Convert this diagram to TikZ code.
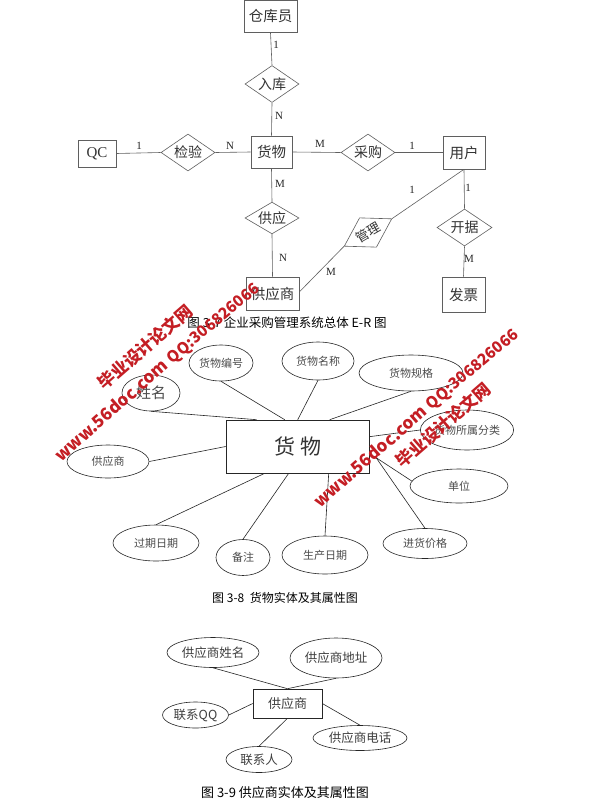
\documentclass[tikz,border=0pt]{standalone}
\usepackage{fontspec}
\setmainfont{Liberation Serif}
\newfontfamily\cjk{Noto Sans CJK SC}
\usetikzlibrary{shapes.geometric}
\definecolor{wm}{RGB}{196,30,36}
\definecolor{ln}{RGB}{95,95,95}
\begin{document}
\begin{tikzpicture}[x=1pt,y=-1pt,
  ent/.style={draw=ln,line width=0.6pt,rectangle,inner sep=0pt,font=\cjk\fontsize{14.5}{14.5}\selectfont,text=black!80},
  rel/.style={draw=ln,line width=0.6pt,diamond,aspect=1.5,inner sep=0pt,font=\cjk\fontsize{14}{14}\selectfont,text=black!80},
  card/.style={font=\fontsize{11}{11}\selectfont,inner sep=0pt,text=black!85},
  conn/.style={draw=ln,line width=0.6pt},
  aconn/.style={draw=black!85,line width=0.6pt},
  attr/.style={draw=black!85,line width=0.6pt,ellipse,inner sep=0pt,font=\cjk\fontsize{11}{11}\selectfont,text=black!70},
  attrb/.style={draw=black!85,line width=0.6pt,ellipse,inner sep=0pt,font=\cjk\fontsize{12.5}{12.5}\selectfont,text=black!75},
  captext/.style={font=\cjk\fontsize{12.5}{12.5}\selectfont,inner sep=0pt},
  wmtext/.style={text=wm,font=\cjk\bfseries\fontsize{17}{17}\selectfont,rotate=41,inner sep=0pt},
  wmqq/.style={text=wm,font=\cjk\bfseries\fontsize{15.5}{15.5}\selectfont,rotate=40,inner sep=0pt}
]
\useasboundingbox (0,0) rectangle (595,801);
\fill[white] (0,0) rectangle (595,801);

% ---------- Figure 3-7 : overall E-R ----------
\node[ent,minimum width=53pt,minimum height=32pt] (ckr) at (270.5,16.5) {仓库员};
\node[ent,minimum width=41pt,minimum height=32pt] (hw) at (271.5,152) {货物};
\node[ent,minimum width=38pt,minimum height=27pt,font=\fontsize{15}{15}\selectfont] (qc) at (97,153.5) {QC};
\node[ent,minimum width=42pt,minimum height=33pt] (yh) at (464,152.5) {用户};
\node[ent,minimum width=53pt,minimum height=33pt] (gys) at (272.5,293.5) {供应商};
\node[ent,minimum width=43pt,minimum height=35pt] (fp) at (463.5,294.5) {发票};

\node[rel,minimum width=54pt,minimum height=37pt] (rk) at (272,84) {入库};
\node[rel,minimum width=54pt,minimum height=37pt] (jy) at (188,152.5) {检验};
\node[rel,minimum width=54pt,minimum height=37pt] (cg) at (368,152.5) {采购};
\node[rel,minimum width=54pt,minimum height=30pt] (gy) at (272,218) {供应};
\node[rel,minimum width=55pt,minimum height=37pt] (kj) at (464.5,227.5) {开据};
\node[rel,minimum width=55pt,minimum height=34pt,rotate=30,font=\cjk\fontsize{13}{13}\selectfont] (gl) at (368,232.5) {管理};

\draw[conn] (ckr.south) -- (rk.north);
\draw[conn] (rk.south) -- (hw.north);
\draw[conn] (qc.east) -- (jy.west);
\draw[conn] (jy.east) -- (hw.west);
\draw[conn] (hw.east) -- (cg.west);
\draw[conn] (cg.east) -- (yh.west);
\draw[conn] (hw.south) -- (gy.north);
\draw[conn] (gy.south) -- (gys.north);
\draw[conn] (yh.south) -- (kj.north);
\draw[conn] (kj.south) -- (fp.north);
\draw[conn] (yh.south) -- (gl.east);
\draw[conn] (gl.west) -- ([yshift=1.5pt]gys.east);

\node[card] (c1) at (276,45) {1};
\node[card] (c2) at (279,116) {N};
\node[card] (c3) at (139,146) {1};
\node[card] (c4) at (230,146) {N};
\node[card] (c5) at (320,144) {M};
\node[card] (c6) at (412,146) {1};
\node[card] (c7) at (280,184) {M};
\node[card] (c8) at (283,258) {N};
\node[card] (c9) at (412,190) {1};
\node[card] (c10) at (468,188) {1};
\node[card] (c11) at (331,272) {M};
\node[card] (c12) at (469,259) {M};

\node[captext] (cap1) at (287,323) {图 3-7 企业采购管理系统总体 E-R 图};

% ---------- Figure 3-8 : goods entity ----------
\node[draw=black!85,line width=0.6pt,rectangle,inner sep=0pt,minimum width=143pt,minimum height=53pt,font=\cjk\fontsize{21}{21}\selectfont,text=black!80] (g) at (297.5,446.5) {货\hspace{5pt}物};

\node[attr,minimum width=58pt,minimum height=36pt,font=\cjk\fontsize{15}{15}\selectfont] (xm) at (151,393) {姓名};
\node[attr,minimum width=64pt,minimum height=36pt] (bh) at (221,363) {货物编号};
\node[attr,minimum width=72pt,minimum height=38pt] (mc) at (318,361) {货物名称};
\node[attr,minimum width=104pt,minimum height=36pt] (gg) at (411,373) {货物规格};
\node[attr,minimum width=92pt,minimum height=40pt] (fl) at (467,430) {货物所属分类};
\node[attr,minimum width=82pt,minimum height=33pt] (gs) at (108,461.5) {供应商};
\node[attr,minimum width=98pt,minimum height=34pt] (dw) at (459,486) {单位};
\node[attr,minimum width=86pt,minimum height=36pt] (gq) at (156,543) {过期日期};
\node[attr,minimum width=54pt,minimum height=36pt] (bz) at (243,557.5) {备注};
\node[attr,minimum width=86pt,minimum height=38pt] (sc) at (325,555) {生产日期};
\node[attr,minimum width=84pt,minimum height=30pt] (jg) at (425,543.5) {进货价格};

\draw[aconn] (xm.south) -- ([xshift=31pt]g.north west);
\draw[aconn] (bh.south) -- ([xshift=59pt]g.north west);
\draw[aconn] (mc.south) -- ([xshift=72pt]g.north west);
\draw[aconn] (gg.south) -- ([xshift=104pt]g.north west);
\draw[aconn] (fl.west) -- ([yshift=-17pt]g.north east);
\draw[aconn] (gs.east) -- (g.west);
\draw[aconn] ([xshift=5pt,yshift=-10pt]g.east) -- (dw.174);
\draw[aconn] ([xshift=6pt,yshift=-10pt]g.east) -- (jg.north);
\draw[aconn] ([xshift=39pt]g.south west) -- (gq.north);
\draw[aconn] ([xshift=63pt]g.south west) -- (bz.north);
\draw[aconn] ([xshift=103pt]g.south west) -- (sc.north);

\node[captext,font=\cjk\fontsize{12}{12}\selectfont] (cap2) at (285,598) {图 3-8\ \ 货物实体及其属性图};

% ---------- Figure 3-9 : supplier entity ----------
\node[draw=black!85,line width=0.6pt,rectangle,inner sep=0pt,minimum width=69pt,minimum height=29pt,font=\cjk\fontsize{13}{13}\selectfont,text=black!75] (s) at (287.5,703.5) {供应商};

\node[attrb,minimum width=92pt,minimum height=30pt] (sxm) at (213,652.5) {供应商姓名};
\node[attrb,minimum width=92pt,minimum height=40pt] (sdz) at (336,658) {供应商地址};
\node[attrb,minimum width=66pt,minimum height=26pt] (sqq) at (195.5,715) {联系QQ};
\node[attrb,minimum width=94pt,minimum height=25pt] (sdh) at (360,738) {供应商电话};
\node[attrb,minimum width=66pt,minimum height=26pt] (slr) at (259,759.5) {联系人};

\draw[aconn] (sxm.south) -- (s.north);
\draw[aconn] (sdz.south) -- (s.north);
\draw[aconn] (sqq.east) -- (s.west);
\draw[aconn] (s.east) -- (sdh.north);
\draw[aconn] (slr.north) -- (s.south);

\node[captext,font=\cjk\fontsize{13}{13}\selectfont] (cap3) at (285,793) {图 3-9 供应商实体及其属性图};

% ---------- watermarks ----------
\node[wmtext] (w1) at (145,347) {毕业设计论文网};
\node[wmtext] (w2) at (111,410) {www.56doc.com};
\node[wmqq] (w3) at (214,324) {QQ:306826066};
\node[wmqq] (w4) at (473,370) {QQ:306826066};
\node[wmtext] (w5) at (443,425) {毕业设计论文网};
\node[wmtext] (w6) at (370,456) {www.56doc.com};
\end{tikzpicture}
\end{document}
